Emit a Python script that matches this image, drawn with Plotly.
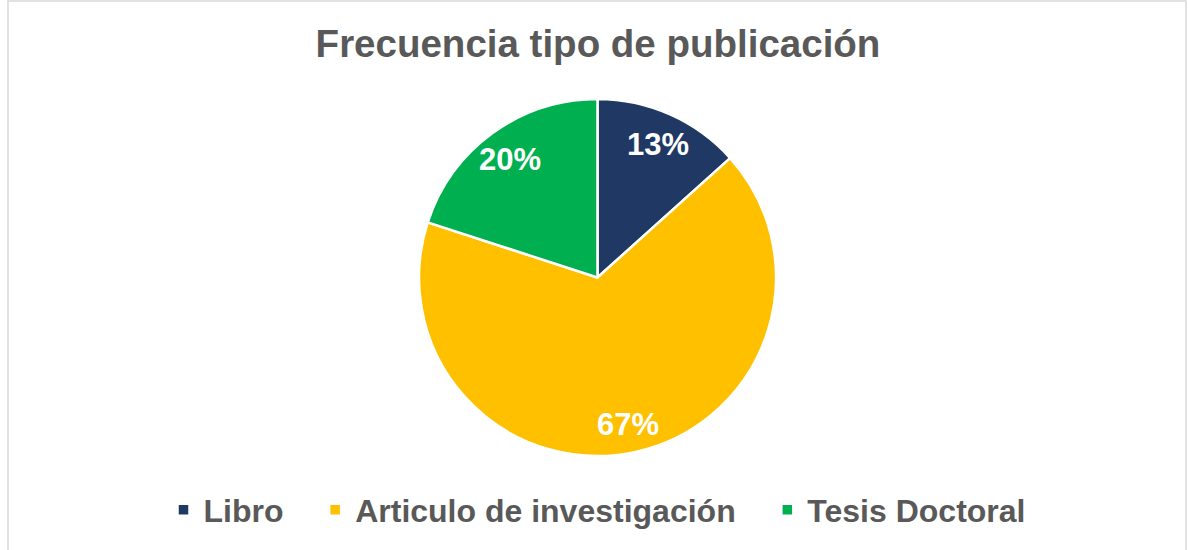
import math
import plotly.graph_objects as go

categories = ["Libro", "Articulo de investigación", "Tesis Doctoral"]
counts = [2, 10, 3]
colors = ["#1F3864", "#FFC000", "#00B050"]
title_text = "Frecuencia tipo de publicación"

W, H = 1188, 550
FONT = "Liberation Sans, Arial, sans-serif"
GRAY = "#595959"

# pie geometry (pixels)
CX, TOP, BOTTOM = 597.5, 99, 456
R = (BOTTOM - TOP) / 2
CY = (TOP + BOTTOM) / 2
LABEL_FRAC = 0.83
LABEL_DY = 2  # small downward nudge of the label box centre

# legend labels padded so entries are spaced like the original
PAD = "\u00a0" * 3
legend_labels = [c + PAD for c in categories[:-1]] + [categories[-1]]

fig = go.Figure(
    go.Pie(
        labels=legend_labels,
        values=counts,
        sort=False,
        direction="clockwise",
        rotation=0,
        marker=dict(colors=colors, line=dict(color="white", width=2.5)),
        textinfo="none",
        hovertemplate="%{label}: %{percent:.0%}<extra></extra>",
        domain=dict(x=[(2 * CX - W) / W, 1], y=[(H - BOTTOM) / H, (H - TOP) / H]),
    )
)

# percentage labels placed at the middle angle of each slice
total = sum(counts)
annotations = []
cum = 0
for v in counts:
    mid = (cum + v / 2) / total * 2 * math.pi
    cum += v
    px = CX + LABEL_FRAC * R * math.sin(mid)
    py = CY - LABEL_FRAC * R * math.cos(mid) + LABEL_DY
    annotations.append(
        dict(
            x=px / W,
            y=1 - py / H,
            xref="paper",
            yref="paper",
            text=f"{round(100 * v / total)}%",
            showarrow=False,
            xanchor="center",
            yanchor="middle",
            font=dict(family=FONT, size=31, color="white", weight="bold"),
        )
    )

fig.update_layout(
    width=W,
    height=H,
    margin=dict(l=0, r=0, t=0, b=0),
    paper_bgcolor="white",
    plot_bgcolor="white",
    title=dict(
        text=title_text,
        x=598 / W,
        xanchor="center",
        y=1 - 44 / H,
        yanchor="middle",
        yref="container",
        font=dict(family=FONT, size=38.5, color=GRAY, weight="bold"),
    ),
    legend=dict(
        orientation="h",
        x=597 / W,
        xanchor="center",
        y=1 - 510 / H,
        yanchor="middle",
        font=dict(family=FONT, size=32, color=GRAY, weight="bold"),
        itemclick=False,
        itemdoubleclick=False,
    ),
    annotations=annotations,
    shapes=[
        dict(
            type="rect",
            xref="paper",
            yref="paper",
            x0=8 / W,
            x1=1186 / W,
            y0=-0.05,
            y1=1 - 1 / H,
            line=dict(color="#D9D9D9", width=1.5),
            fillcolor="rgba(0,0,0,0)",
            layer="below",
        )
    ],
)

fig.write_html(
    "out.html",
    config={"displayModeBar": False},
    post_script="document.body.style.margin='0';document.body.style.overflow='hidden';",
)
